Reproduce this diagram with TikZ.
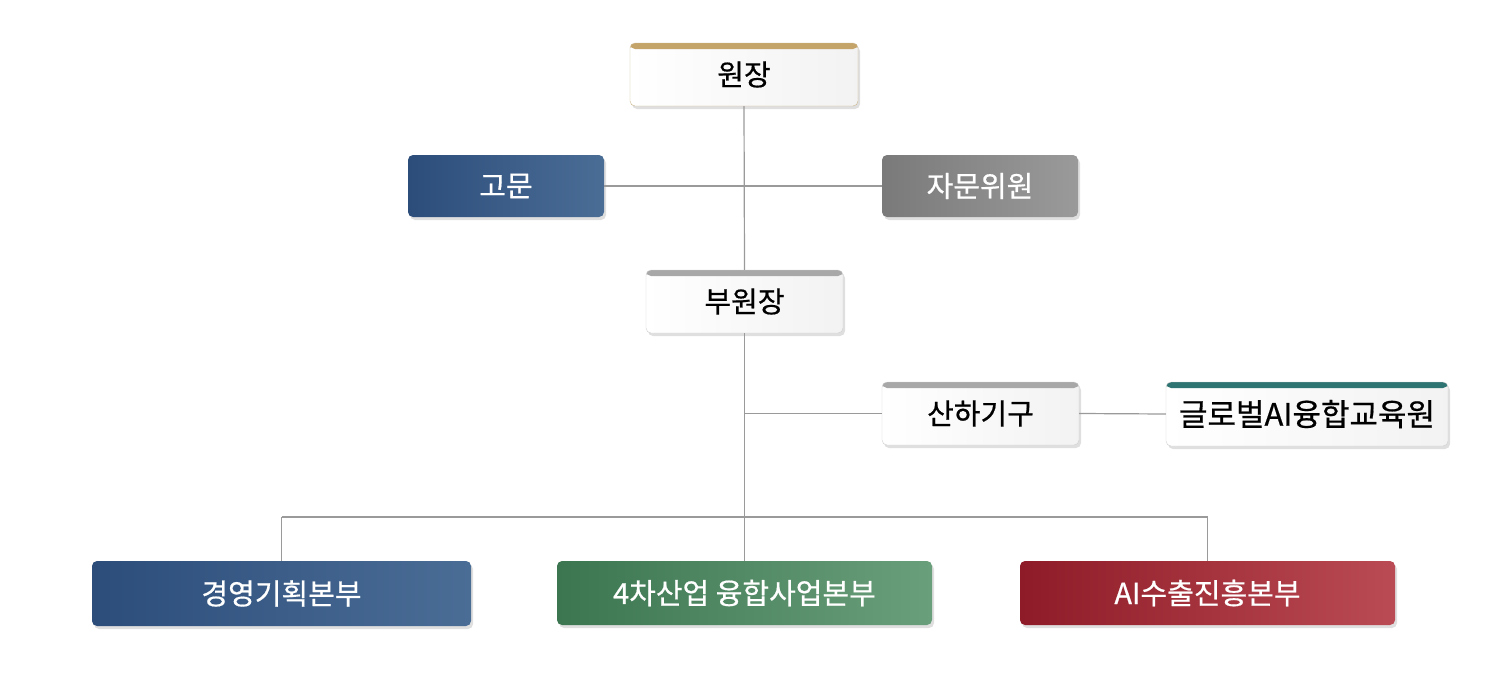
\documentclass[tikz,border=0pt]{standalone}
\usepackage{fontspec}
\setmainfont[FakeBold=0.6]{Noto Sans CJK KR}
\newfontfamily\kfont[FakeBold=0.6]{Noto Sans CJK KR}
\usetikzlibrary{shadows}
\definecolor{lineC}{HTML}{9A9A9A}
\definecolor{blueL}{HTML}{2C4D7A}
\definecolor{blueR}{HTML}{4A6D96}
\definecolor{greenL}{HTML}{3B7650}
\definecolor{greenR}{HTML}{6A9F7B}
\definecolor{redL}{HTML}{8E1C28}
\definecolor{redR}{HTML}{BA4A54}
\definecolor{grayL}{HTML}{7A7A7A}
\definecolor{grayR}{HTML}{9A9A9A}
\definecolor{gold}{HTML}{C4A468}
\definecolor{goldB}{HTML}{CDB88E}
\definecolor{teal}{HTML}{2E7473}
\definecolor{bandgray}{HTML}{A8A8A8}
\tikzset{
  x=1pt, y=-1pt,
  card/.style={rounded corners=5pt, inner sep=0pt, align=center,
    font=\kfont\fontsize{29}{33}\selectfont,
    drop shadow={opacity=0.25, shadow xshift=2pt, shadow yshift=-3pt}},
  darkcard/.style={card, text=white, draw=none},
  lightcard/.style={card, text=black, draw=#1, left color=white, right color=black!5},
  band/.style={path picture={\fill[#1] (path picture bounding box.north west) rectangle ([yshift=-6pt]path picture bounding box.north east);}},
  conn/.style={draw=lineC, line width=1.2pt}
}
\begin{document}
\begin{tikzpicture}
\useasboundingbox[fill=white] (0,0) rectangle (1512,688);
% nodes
\node[lightcard=goldB, band=gold, minimum width=228pt, minimum height=63pt] (dir) at (744,74.5) {원장};
\node[darkcard, left color=blueL, right color=blueR, minimum width=196pt, minimum height=62pt] (adv) at (506,186) {고문};
\node[darkcard, left color=grayL, right color=grayR, minimum width=196pt, minimum height=62pt] (com) at (980,186) {자문위원};
\node[lightcard=black!18, band=bandgray, minimum width=197pt, minimum height=63pt] (vice) at (744.5,301.5) {부원장};
\node[lightcard=black!18, band=bandgray, minimum width=197pt, minimum height=63pt] (sub) at (980.5,413.5) {산하기구};
\node[lightcard=black!18, band=teal, minimum width=282pt, minimum height=64pt, font=\kfont\fontsize{31}{35}\selectfont] (glob) at (1307,414) {글로벌AI융합교육원};
\node[darkcard, left color=blueL, right color=blueR, minimum width=379pt, minimum height=65pt] (d1) at (281.5,593.5) {경영기획본부};
\node[darkcard, left color=greenL, right color=greenR, minimum width=375pt, minimum height=64pt] (d2) at (744.5,593) {4차산업 융합사업본부};
\node[darkcard, left color=redL, right color=redR, minimum width=375pt, minimum height=64pt] (d3) at (1207.5,593) {AI수출진흥본부};
% junctions
\coordinate (jB) at (744.5,413.5);
\coordinate (jL) at (281.5,517);
\coordinate (jR) at (1207.5,517);
% connectors
\path[conn] (dir.south) -- (vice.north);
\path[conn] (adv.east) -- (com.west);
\path[conn] (vice.south) -- (d2.north);
\path[conn] (jB) -- (sub.west);
\path[conn] (sub.east) -- (glob.west);
\path[conn] (jL) -- (jR);
\path[conn] (jL) -- (d1.north);
\path[conn] (jR) -- (d3.north);
\end{tikzpicture}
\end{document}
